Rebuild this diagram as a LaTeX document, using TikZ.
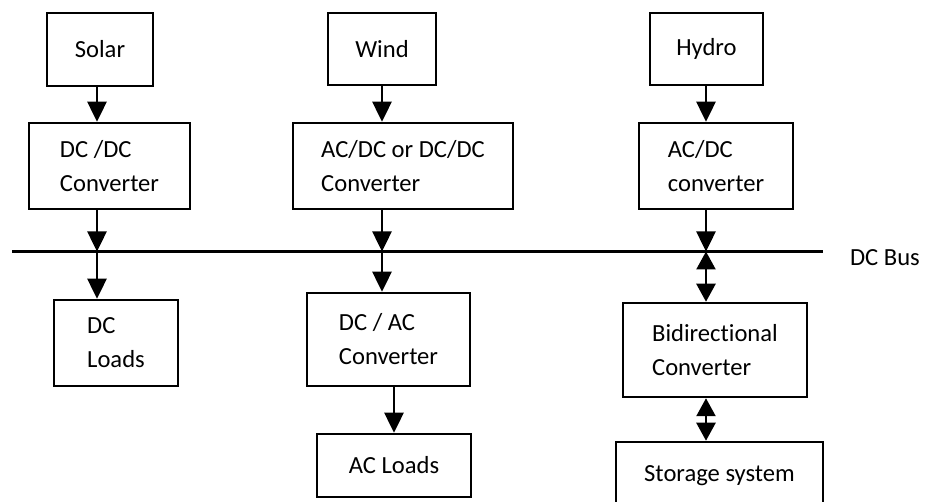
\documentclass[tikz,border=0pt]{standalone}
\usepackage{fontspec}
\setmainfont[Ligatures=NoCommon]{Carlito}
\usetikzlibrary{arrows.meta}

\begin{document}
\begin{tikzpicture}[
  x=0.5pt,y=-0.5pt,
  block/.style={rectangle,draw=black,line width=1.25pt,align=left,inner sep=0pt,font=\fontsize{12.3}{17}\selectfont},
  arr/.style={-{Triangle[length=10pt,width=9.5pt]},line width=1.25pt},
  biarr/.style={{Triangle[length=9pt,width=9.5pt]}-{Triangle[length=9pt,width=9.5pt]},line width=1.25pt}
]
\useasboundingbox (0,0) rectangle (933,502);
% sources
\node[block,minimum width=53pt,minimum height=36.5pt] (solar) at (100,49.5) {Solar};
\node[block,minimum width=54pt,minimum height=36pt] (wind) at (382,49) {Wind};
\node[block,minimum width=56.5pt,minimum height=36pt] (hydro) at (706.5,49) {Hydro};
% converters
\node[block,minimum width=80.5pt,minimum height=43pt] (dcdc) at (109.5,166) {DC /DC\\Converter};
\node[block,minimum width=110pt,minimum height=43pt] (acdcwind) at (403,166) {AC/DC or DC/DC\\Converter};
\node[block,minimum width=77pt,minimum height=43pt] (acdc) at (716,166) {AC/DC\\converter};
% bus
\coordinate (busL) at (12,251.5);
\coordinate (busR) at (823,251.5);
\coordinate (busA) at (97,251.5);
\coordinate (busB) at (382,251.5);
\coordinate (busC) at (706,251.5);
\draw[line width=1.25pt] (busL) -- (busR);
\node[anchor=west,font=\fontsize{12.3}{17}\selectfont] (buslabel) at (843,258) {DC Bus};
% loads and storage
\node[block,minimum width=62pt,minimum height=43pt] (dcload) at (116,343) {DC\\Loads};
\node[block,minimum width=81.5pt,minimum height=46.5pt] (dcac) at (388.5,339.5) {DC / AC\\Converter};
\node[block,minimum width=77pt,minimum height=31.5pt] (acload) at (394,465.5) {AC Loads};
\node[block,minimum width=92pt,minimum height=47pt] (bidir) at (715,350) {Bidirectional\\Converter};
\node[block,minimum width=103.5pt,minimum height=34pt] (storage) at (719.5,476) {Storage system};
% connectors
\draw[arr] (solar.south -| busA) -- (dcdc.north -| busA);
\draw[arr] (dcdc.south -| busA) -- (busA);
\draw[arr] (busA) -- (dcload.north -| busA);
\draw[arr] (wind.south -| busB) -- (acdcwind.north -| busB);
\draw[arr] (acdcwind.south -| busB) -- (busB);
\draw[arr] (busB) -- (dcac.north -| busB);
\draw[arr] (dcac.south -| acload.north) -- (acload.north);
\draw[arr] (hydro.south -| busC) -- (acdc.north -| busC);
\draw[arr] (acdc.south -| busC) -- (busC);
\draw[biarr] (busC) -- (bidir.north -| busC);
\draw[biarr] (bidir.south -| busC) -- (storage.north -| busC);
\end{tikzpicture}
\end{document}
